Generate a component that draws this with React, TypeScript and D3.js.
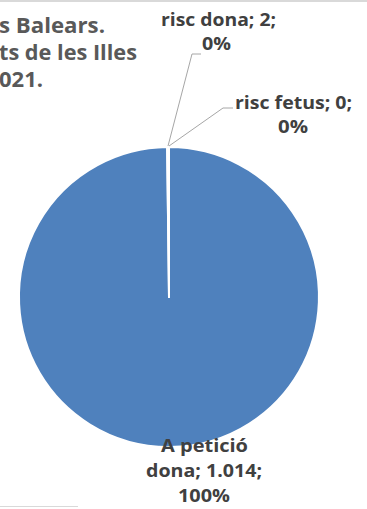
import React from "react";
import * as d3 from "d3";

const categories = ["A petició dona", "risc dona", "risc fetus"];
const values = [1014, 2, 0];
const valueLabels = ["1.014", "2", "0"];
const percentLabels = ["100%", "0%", "0%"];
const titleLines = ["s Balears.", "ts de les Illes", "021."];

const W = 367;
const H = 509;
const cx = 169;
const cy = 297;
const R = 150;
const FONT = "'Open Sans', 'Noto Sans', sans-serif";
const TXT = "#404040";

export default function App() {
  const pie = d3
    .pie<number>()
    .sort(null)
    .value((d) => d)
    .startAngle(0)
    .endAngle(2 * Math.PI);
  const arcs = pie(values);
  const arc = d3.arc<d3.PieArcDatum<number>>().innerRadius(0).outerRadius(R);

  const [c0a, c0b, c0c] = categories[0].split(" ");
  // layout: left x, baseline y, rendered width for each line
  const labelLayouts = [
    { xs: [161, 146, 178], ys: [452, 477, 502], ws: [87, 116, 52], lines: [`${c0a} ${c0b}`, `${c0c}; ${valueLabels[0]};`, percentLabels[0]] },
    { xs: [161, 202], ys: [25.5, 50], ws: [115, 29], lines: [`${categories[1]}; ${valueLabels[1]};`, percentLabels[1]] },
    { xs: [235, 278], ys: [109, 133], ws: [117, 30], lines: [`${categories[2]}; ${valueLabels[2]};`, percentLabels[2]] },
  ];

  const titleX = [-1, -1, -1];
  const titleW = [106, 138, 44];
  const titleY = [33, 60, 87];

  const leaders = [
    null,
    [[168, 146], [192, 54], [201, 54]],
    [[169, 146], [223, 108], [233, 108]],
  ];

  return (
    <svg width={W} height={H} style={{ position: "absolute", left: 0, top: 0, display: "block", background: "#fff" }}>
      <rect x={0} y={0} width={W} height={2} fill="#d9d9d9" />
      <rect x={0} y={506} width={78} height={1} fill="#d9d9d9" />
      <g fontFamily={FONT} fontWeight={700} fontSize={21} fill="#595959">
        {titleLines.map((t, i) => (
          <text key={i} x={titleX[i]} y={titleY[i]} textLength={titleW[i]} lengthAdjust="spacingAndGlyphs">
            {t}
          </text>
        ))}
      </g>
      <g transform={`translate(${cx},${cy})`}>
        {arcs.map((a, i) => (
          <path key={i} d={arc(a) || ""} fill="#4f81bd" stroke="#fff" strokeWidth={2} strokeLinejoin="round" />
        ))}
      </g>
      {leaders.map((pts, i) =>
        pts ? (
          <polyline key={i} points={pts.map((p) => p.join(",")).join(" ")} fill="none" stroke="#a6a6a6" strokeWidth={1} />
        ) : null
      )}
      <g fontFamily={FONT} fontWeight={700} fontSize={18.5} fill={TXT}>
        {labelLayouts.map((l, i) =>
          l.lines.map((t, j) => (
            <text key={`${i}-${j}`} x={l.xs[j]} y={l.ys[j]} textLength={l.ws[j]} lengthAdjust="spacingAndGlyphs">
              {t}
            </text>
          ))
        )}
      </g>
    </svg>
  );
}
